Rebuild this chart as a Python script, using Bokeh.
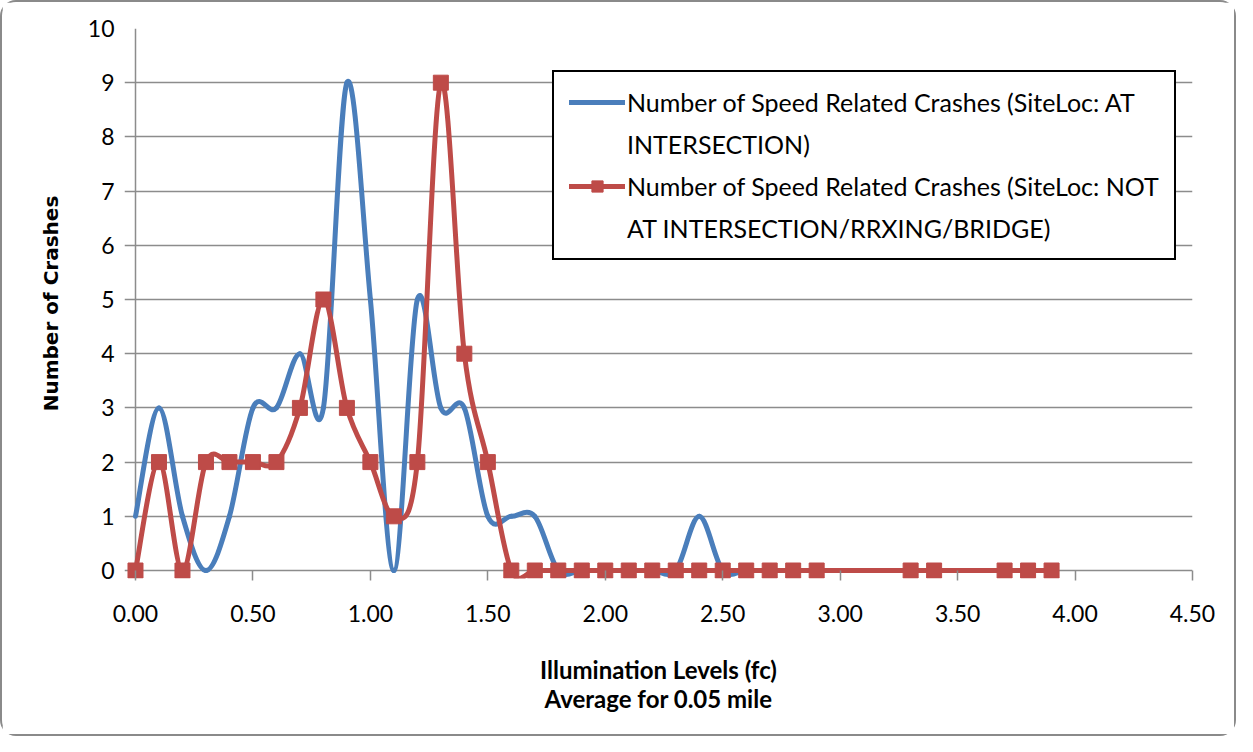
import numpy as np
from bokeh.plotting import figure
from bokeh.models import (Range1d, LinearAxis, NumeralTickFormatter, SingleIntervalTicker,
                          FixedTicker, Legend, LegendItem, Grid, ColumnDataSource)
from bokeh.embed import file_html
from bokeh.resources import INLINE

# ---------------- data ----------------
illumination = [0.0, 0.1, 0.2, 0.3, 0.4, 0.5, 0.6, 0.7, 0.8, 0.9,
                1.0, 1.1, 1.2, 1.3, 1.4, 1.5, 1.6, 1.7, 1.8, 1.9,
                2.0, 2.1, 2.2, 2.3, 2.4, 2.5, 2.6, 2.7, 2.8, 2.9,
                3.3, 3.4, 3.7, 3.8, 3.9]
at_intersection = [1, 3, 1, 0, 1, 3, 3, 4, 3, 9,
                   5, 0, 5, 3, 3, 1, 1, 1, 0, 0,
                   0, 0, 0, 0, 1, 0, 0, 0, 0, 0,
                   0, 0, 0, 0, 0]
not_at_intersection = [0, 2, 0, 2, 2, 2, 2, 3, 5, 3,
                       2, 1, 2, 9, 4, 2, 0, 0, 0, 0,
                       0, 0, 0, 0, 0, 0, 0, 0, 0, 0,
                       0, 0, 0, 0, 0]
series_labels = [
    ("Number of Speed Related Crashes (SiteLoc: AT", "INTERSECTION)"),
    ("Number of Speed Related Crashes (SiteLoc: NOT", "AT INTERSECTION/RRXING/BRIDGE)"),
]
x_title = "Illumination Levels (fc)\nAverage for 0.05 mile"
y_title = "Number of Crashes"

BLUE = "#4A7EBB"
RED = "#BE4B48"
GRID = "#8C8C8C"


def smooth_segments(xs, ys):
    """Excel-like smoothed line: cubic Bezier control points (Catmull-Rom)."""
    xs = np.asarray(xs, float)
    ys = np.asarray(ys, float)
    n = len(xs)
    d = dict(x0=[], y0=[], x1=[], y1=[], cx0=[], cy0=[], cx1=[], cy1=[])
    for i in range(n - 1):
        i0 = max(i - 1, 0)
        i3 = min(i + 2, n - 1)
        d["x0"].append(xs[i]); d["y0"].append(ys[i])
        d["x1"].append(xs[i + 1]); d["y1"].append(ys[i + 1])
        d["cx0"].append(xs[i] + (xs[i + 1] - xs[i0]) / 6)
        d["cy0"].append(ys[i] + (ys[i + 1] - ys[i0]) / 6)
        d["cx1"].append(xs[i + 1] - (xs[i3] - xs[i]) / 6)
        d["cy1"].append(ys[i + 1] - (ys[i3] - ys[i]) / 6)
    return ColumnDataSource(d)


p = figure(width=1236, height=736, output_backend="svg", toolbar_location=None,
           x_range=Range1d(-0.0468, 4.5), y_range=Range1d(-0.1476, 10),
           x_axis_location=None, y_axis_location=None,
           min_border_left=122, min_border_right=46, min_border_top=26, min_border_bottom=160)
p.center = []
p.outline_line_color = None
p.background_fill_color = "white"
p.border_fill_color = "white"
p.styles = {"border": "2px solid #8a8a8a", "border-radius": "16px"}

xaxis = LinearAxis(ticker=SingleIntervalTicker(interval=0.5),
                   formatter=NumeralTickFormatter(format="0.00"))
yaxis = LinearAxis(ticker=SingleIntervalTicker(interval=1))
for ax in (xaxis, yaxis):
    ax.axis_line_color = None
    ax.minor_tick_line_color = None
    ax.major_label_text_font = "Lato"
    ax.major_label_text_font_size = "23px"
    ax.major_label_text_color = "black"
xaxis.major_tick_line_color = GRID
xaxis.major_tick_line_width = 1.5
xaxis.major_tick_in = 8
xaxis.major_tick_out = 2
xaxis.major_label_standoff = 22
yaxis.major_tick_line_color = None
yaxis.major_tick_in = 0
yaxis.major_tick_out = 0
yaxis.major_label_standoff = 6

xaxis.axis_label = x_title
xaxis.axis_label_text_font = "Lato"
xaxis.axis_label_text_font_style = "bold"
xaxis.axis_label_text_font_size = "24px"
xaxis.axis_label_text_color = "black"
xaxis.axis_label_text_line_height = 1.02
xaxis.axis_label_standoff = 30
yaxis.axis_label = y_title
yaxis.axis_label_text_font = "DejaVu Sans"
yaxis.axis_label_text_font_style = "bold"
yaxis.axis_label_text_font_size = "20px"
yaxis.axis_label_text_color = "black"
yaxis.axis_label_standoff = 22
p.add_layout(xaxis, "below")
p.add_layout(yaxis, "left")

# horizontal gridlines (the one at 0 is the category axis line)
p.add_layout(Grid(dimension=1, ticker=yaxis.ticker, grid_line_color=GRID, grid_line_width=1.5))
# value axis line at x = 0
p.add_layout(Grid(dimension=0, ticker=FixedTicker(ticks=[0]), grid_line_color=GRID, grid_line_width=1.5))

blue_src = smooth_segments(illumination, at_intersection)
red_src = smooth_segments(illumination, not_at_intersection)

blue_r = p.bezier(x0="x0", y0="y0", x1="x1", y1="y1", cx0="cx0", cy0="cy0", cx1="cx1", cy1="cy1",
                  source=blue_src, line_color=BLUE, line_width=5, line_cap="round")
red_r = p.bezier(x0="x0", y0="y0", x1="x1", y1="y1", cx0="cx0", cy0="cy0", cx1="cx1", cy1="cy1",
                 source=red_src, line_color=RED, line_width=5, line_cap="round")
red_pts = p.scatter(x=illumination, y=not_at_intersection, marker="square", size=15,
                    fill_color=RED, line_color=RED, line_width=1)

# invisible proxy for the wrapped second line of each legend label
blank = p.line(x=illumination, y=at_intersection, line_alpha=0)

legend = Legend(items=[
    LegendItem(label=series_labels[0][0], renderers=[blue_r]),
    LegendItem(label=series_labels[0][1], renderers=[blank]),
    LegendItem(label=series_labels[1][0], renderers=[red_r, red_pts]),
    LegendItem(label=series_labels[1][1], renderers=[blank]),
], location=(428, 318))
legend.label_text_font = "Lato"
legend.label_text_font_size = "25px"
legend.label_text_color = "black"
legend.glyph_width = 56
legend.glyph_height = 28
legend.label_height = 28
legend.label_standoff = 2
legend.spacing = 12
legend.padding = 15
legend.margin = 0
legend.border_line_color = "black"
legend.border_line_alpha = 1
legend.border_line_width = 2
legend.background_fill_color = "white"
legend.background_fill_alpha = 1
p.add_layout(legend, "center")

open("out.html", "w").write(file_html(p, INLINE))
